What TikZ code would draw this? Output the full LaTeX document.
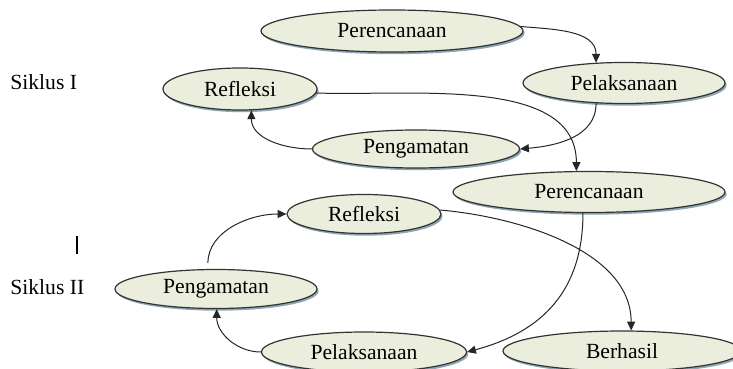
\documentclass[tikz,border=0pt]{standalone}
\usepackage{fontspec}
\setmainfont{Liberation Serif}
\usetikzlibrary{shapes.geometric,shadows,arrows.meta}
\definecolor{phasefill}{HTML}{EBEEDC}
\definecolor{phaseshadow}{HTML}{8EA6B6}
\definecolor{phaseline}{HTML}{333333}
\begin{document}
\begin{tikzpicture}[x=0.5pt, y=-0.5pt,
    phase/.style={ellipse, draw=phaseline, fill=phasefill, inner sep=0pt, line width=0.6pt,
        drop shadow={shadow xshift=0.8pt, shadow yshift=-1.1pt, fill=phaseshadow, opacity=1},
        font=\fontsize{10.8}{13}\selectfont},
    cyc/.style={-{Triangle[length=4.4pt, width=4pt]}, line width=0.5pt, black!85}]
    % page
	\clip (0,0) rectangle (733,369);
	\fill[white] (0,0) rectangle (733,369);
    % cycle labels
        \node[anchor=west, inner sep=0pt, font=\fontsize{10.8}{13}\selectfont] (siklusI) at (10,82) {Siklus I};
        \node[anchor=west, inner sep=0pt, font=\fontsize{10.8}{13}\selectfont] (siklusII) at (10,287) {Siklus II};
        \draw[line width=1pt] (77,236) -- (77,254);
    % phases
        \foreach \name/\x/\y/\w/\h/\txt in {
            pa/392/31/131/21/Perencanaan, pb/624/83/101/20.5/Pelaksanaan,
            pd/240/89/77/21/Refleksi, pc/416/149/103.5/19/Pengamatan,
            qa/589/192/136/20.5/Perencanaan, qd/364/214/77/19.5/Refleksi,
            qc/216/289/101/19.5/Pengamatan, qb/364/352/102.5/20/Pelaksanaan,
            ok/622/351/119/20/Berhasil} {
		\node[phase, minimum width=\w pt, minimum height=\h pt] (\name) at (\x,\y) {\txt};
        };
    % siklus I
	\draw[cyc] (pa.2) to[out=-5, in=90] (pb.144);
	\draw[cyc] (pb.216) to[out=-90, in=5] (pc.east);
	\draw[cyc] (pc.west) to[out=180, in=-90] (pd.298);
    % siklus I -> siklus II
	\draw[cyc] (pd.357) to[out=-2, in=90, looseness=0.9] (qa.121);
	\draw[cyc] (qa.254) to[out=-90, in=15, looseness=1.1] (qb.east);
	\draw[cyc] (qb.west) to[out=180, in=-90] (qc.272);
	\draw[cyc, shorten <=3pt] (qc.112) to[out=90, in=180] (qd.west);
	\draw[cyc] (qd.3) to[out=-5, in=90, looseness=0.9] (ok.66);
\end{tikzpicture}
\end{document}
